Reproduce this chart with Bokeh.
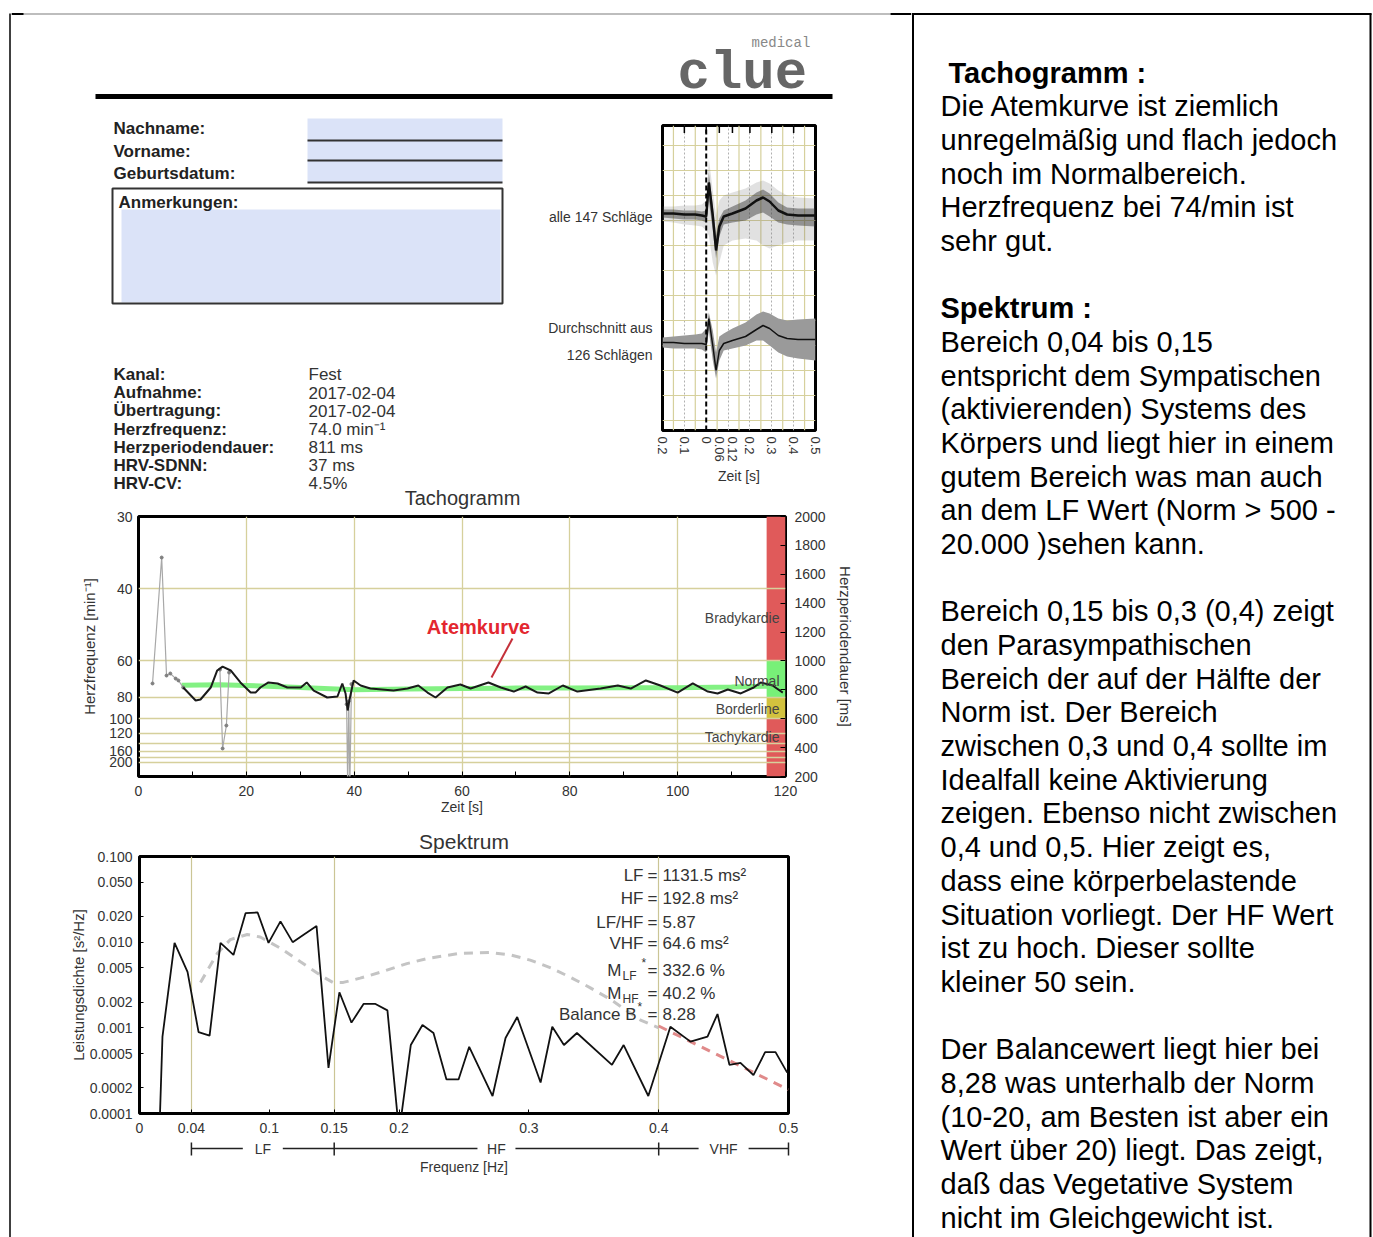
import math
from bokeh.plotting import figure
from bokeh.models import Range1d, FixedTicker, LinearAxis
from bokeh.layouts import row, column
from bokeh.embed import file_html
from bokeh.resources import INLINE
from bokeh.core.properties import value

SANS = "Liberation Sans"
MONO = "Liberation Mono"

# ------------------------------------------------------------------ data
form_labels = ["Nachname:", "Vorname:", "Geburtsdatum:"]
notes_label = "Anmerkungen:"
info_labels = ["Kanal:", "Aufnahme:", "Übertragung:", "Herzfrequenz:",
               "Herzperiodendauer:", "HRV-SDNN:", "HRV-CV:"]
info_values = ["Fest", "2017-02-04", "2017-02-04", "74.0 min⁻¹", "811 ms", "37 ms", "4.5%"]
beat_labels = ["alle 147 Schläge", "Durchschnitt aus", "126 Schlägen"]

# ECG beats (time in s, amplitude in grid units)
ecg_t = [-0.20, -0.15, -0.10, -0.05, -0.02, 0.00, 0.012, 0.03, 0.045, 0.06,
         0.08, 0.12, 0.18, 0.23, 0.26, 0.29, 0.33, 0.37, 0.42, 0.50]
beat_all_mid = [8.68, 8.68, 8.64, 8.64, 8.60, 8.56, 9.92, 8.60, 7.20, 8.16,
                8.56, 8.68, 8.88, 9.20, 9.32, 9.16, 8.80, 8.64, 8.60, 8.60]
beat_all_hi = [8.96, 8.96, 9.00, 9.00, 9.04, 9.20, 10.88, 9.60, 8.60, 9.20,
               9.40, 9.52, 9.68, 9.92, 10.00, 9.88, 9.60, 9.40, 9.32, 9.28]
beat_all_lo = [8.36, 8.32, 8.24, 8.20, 8.16, 8.00, 7.80, 6.72, 6.20, 6.72,
               7.40, 7.60, 7.68, 7.60, 7.40, 7.28, 7.40, 7.52, 7.60, 7.60]
beat_core_hi = [8.84, 8.84, 8.80, 8.80, 8.76, 8.80, 10.32, 9.00, 7.80, 8.48,
                8.80, 8.96, 9.20, 9.52, 9.64, 9.48, 9.12, 8.92, 8.88, 8.88]
beat_core_lo = [8.52, 8.48, 8.44, 8.44, 8.40, 8.32, 9.20, 8.00, 6.88, 7.76,
                8.24, 8.32, 8.40, 8.64, 8.72, 8.56, 8.32, 8.24, 8.20, 8.16]
beat_avg = [3.52, 3.52, 3.48, 3.48, 3.48, 3.44, 4.48, 3.40, 2.40, 3.20,
            3.48, 3.60, 3.76, 4.04, 4.20, 4.08, 3.80, 3.68, 3.64, 3.64]
beat_avg_hi = [3.72, 3.76, 3.80, 3.84, 3.88, 4.08, 4.72, 4.00, 3.12, 3.76,
               3.88, 4.08, 4.32, 4.64, 4.76, 4.68, 4.48, 4.40, 4.44, 4.48]
beat_avg_lo = [3.32, 3.28, 3.28, 3.28, 3.24, 3.12, 4.00, 2.80, 2.08, 2.80,
               3.20, 3.28, 3.40, 3.60, 3.60, 3.40, 3.12, 2.96, 2.88, 2.80]
ecg_ticks = [-0.2, -0.1, 0.0, 0.06, 0.12, 0.2, 0.3, 0.4, 0.5]
ecg_tick_labels = ["0.2", "0.1", "0", "0.06", "0.12", "0.2", "0.3", "0.4", "0.5"]

# Tachogramm: time [s] and beat interval [ms]
tacho_t = [8.3, 10.6, 11.5, 13.4, 14.6, 15.6, 17.1, 18.9, 20.8, 21.7, 22.6, 24.1,
           25.8, 27.6, 30.1, 31.2, 32.5, 35.0, 36.9, 37.8, 38.4, 38.8, 39.1, 39.9,
           41.2, 43.0, 47.3, 49.9, 51.9, 53.6, 55.1, 57.3, 59.7, 61.6, 64.9, 67.2,
           69.6, 71.8, 74.0, 76.1, 78.7, 81.4, 85.7, 88.9, 91.3, 94.1, 96.8, 100.0,
           102.8, 105.6, 107.4, 109.3, 111.7, 114.1, 115.4, 117.6, 119.5]
tacho_rr = [816, 726, 733, 816, 934, 961, 934, 851, 781, 781, 816, 851,
            844, 816, 816, 851, 795, 747, 754, 844, 775, 657, 726, 865,
            830, 809, 795, 809, 830, 781, 747, 816, 837, 809, 851, 816,
            788, 823, 781, 775, 830, 788, 809, 830, 809, 865, 830, 781,
            844, 788, 775, 802, 775, 816, 851, 830, 781]
raw_t = [2.6, 4.3, 5.2, 5.9, 6.9, 7.4, 8.3, float("nan"),
         15.1, 15.6, 16.3, 16.8, float("nan"),
         38.6, 38.8, 39.0, 39.2, 39.5]
raw_rr = [844, 1716, 899, 913, 878, 865, 816, float("nan"),
          940, 394, 553, 920, float("nan"),
          700, 120, 720, 130, 840]
trend_t = [8, 15, 20, 30, 40, 50, 60, 70, 80, 90, 100, 110, 117]
trend_rr = [832, 835, 830, 816, 800, 805, 809, 812, 812, 815, 815, 820, 825]
hr_ticks = [30, 40, 60, 80, 100, 120, 160, 200]
hr_grid = [40, 60, 80, 100, 120, 140, 160, 180, 200]
rr_ticks = [200, 400, 600, 800, 1000, 1200, 1400, 1600, 1800, 2000]
time_ticks = [0, 20, 40, 60, 80, 100, 120]
time_minor = [10, 30, 50, 70, 90, 110]
zone_names = ["Bradykardie", "Normal", "Borderline", "Tachykardie"]
zone_lo = [1000, 750, 600, 200]
zone_hi = [2000, 1000, 750, 600]
zone_colors = ["#e05a5a", "#78f078", "#d2c23e", "#e05a5a"]

# Spektrum
spec_f = [0.0156, 0.0177, 0.027, 0.037, 0.0455, 0.054, 0.0624, 0.0724, 0.0817, 0.091,
          0.0994, 0.1086, 0.118, 0.127, 0.1364, 0.1456, 0.154, 0.1633, 0.1726, 0.1818,
          0.191, 0.2, 0.209, 0.218, 0.2265, 0.2365, 0.2458, 0.254, 0.272, 0.282,
          0.291, 0.309, 0.318, 0.327, 0.337, 0.364, 0.373, 0.392, 0.409, 0.4245,
          0.4376, 0.4453, 0.4545, 0.463, 0.473, 0.482, 0.49, 0.499]
spec_p = [0.00008, 0.00079, 0.0098, 0.0045, 0.00089, 0.00081, 0.0098, 0.0071, 0.0218, 0.0222,
          0.0098, 0.0175, 0.0100, 0.0124, 0.0154, 0.00034, 0.0026, 0.00115, 0.0019, 0.0019,
          0.0016, 0.00006, 0.00063, 0.00108, 0.00087, 0.00025, 0.00025, 0.0006, 0.00016, 0.00076,
          0.00134, 0.00023, 0.00103, 0.00063, 0.00087, 0.00037, 0.00063, 0.00016, 0.00103, 0.00069,
          0.00079, 0.00145, 0.00037, 0.00039, 0.00028, 0.00052, 0.00052, 0.0003]
norm_f = [0.047, 0.06, 0.07, 0.083, 0.093, 0.1086, 0.124, 0.142, 0.149, 0.157, 0.17, 0.186,
          0.206, 0.222, 0.247, 0.27, 0.286, 0.301, 0.317, 0.332, 0.347, 0.363, 0.386, 0.4]
norm_p = [0.00339, 0.00741, 0.01072, 0.0123, 0.01148, 0.00851, 0.00589, 0.00389, 0.00339,
          0.00339, 0.0038, 0.00447, 0.00562, 0.00646, 0.00741, 0.00759, 0.00708, 0.00617,
          0.00501, 0.00389, 0.00295, 0.00214, 0.00123, 0.001]
vhf_f = [0.4, 0.5]
vhf_p = [0.00105, 0.00019]
band_names = ["LF", "HF", "VHF"]
band_lo = [0.04, 0.15, 0.4]
band_hi = [0.15, 0.4, 0.5]
freq_ticks = [0, 0.04, 0.1, 0.15, 0.2, 0.3, 0.4, 0.5]
freq_labels = ["0", "0.04", "0.1", "0.15", "0.2", "0.3", "0.4", "0.5"]
psd_ticks = [0.1, 0.05, 0.02, 0.01, 0.005, 0.002, 0.001, 0.0005, 0.0002, 0.0001]
psd_labels = ["0.100", "0.050", "0.020", "0.010", "0.005", "0.002", "0.001",
              "0.0005", "0.0002", "0.0001"]
stat_names = ["LF", "HF", "LF/HF", "VHF"]
stat_values = ["1131.5 ms²", "192.8 ms²", "5.87", "64.6 ms²", "332.6 %", "40.2 %", "8.28"]

# Kommentar rechts
comment_lines = [
    ("Tachogramm :", True), ("Die Atemkurve ist ziemlich", False),
    ("unregelmäßig und flach jedoch", False), ("noch im Normalbereich.", False),
    ("Herzfrequenz bei 74/min ist", False), ("sehr gut.", False), ("", False),
    ("Spektrum :", True), ("Bereich 0,04 bis 0,15", False),
    ("entspricht dem Sympatischen", False), ("(aktivierenden) Systems des", False),
    ("Körpers und liegt hier in einem", False), ("gutem Bereich was man auch", False),
    ("an dem LF Wert (Norm > 500 -", False), ("20.000 )sehen kann.", False), ("", False),
    ("Bereich 0,15 bis 0,3 (0,4) zeigt", False), ("den Parasympathischen", False),
    ("Bereich der auf der Hälfte der", False), ("Norm ist. Der Bereich", False),
    ("zwischen 0,3 und 0,4 sollte im", False), ("Idealfall keine Aktivierung", False),
    ("zeigen. Ebenso nicht zwischen", False), ("0,4 und 0,5. Hier zeigt es,", False),
    ("dass eine körperbelastende", False), ("Situation vorliegt. Der HF Wert", False),
    ("ist zu hoch. Dieser sollte", False), ("kleiner 50 sein.", False), ("", False),
    ("Der Balancewert liegt hier bei", False), ("8,28 was unterhalb der Norm", False),
    ("(10-20, am Besten ist aber ein", False), ("Wert über 20) liegt. Das zeigt,", False),
    ("daß das Vegetative System", False), ("nicht im Gleichgewicht ist.", False),
]

# ------------------------------------------------------------------ helpers
def txt(p, xs, ys, texts, size, color="#222", bold=False, align="left",
        baseline="middle", font=SANS, angle=0.0):
    p.text(x=xs, y=ys, text=texts, text_font=value(font), text_font_size=f"{size}px",
           text_font_style="bold" if bold else "normal", text_color=color,
           text_align=align, text_baseline=baseline, angle=angle)


def pixfig(x0, x1, y0, y1):
    p = figure(width=x1 - x0, height=y1 - y0, x_range=Range1d(x0, x1),
               y_range=Range1d(y1, y0), output_backend="svg", toolbar_location=None,
               x_axis_location=None, y_axis_location=None, min_border=0,
               frame_align=False)
    p.grid.visible = False
    p.outline_line_color = None
    return p


def style_axis(ax, size=14):
    ax.axis_line_color = None
    ax.major_label_text_font = SANS
    ax.major_label_text_font_size = f"{size}px"
    ax.major_label_text_color = "#333"
    ax.axis_label_text_font = SANS
    ax.axis_label_text_font_style = "normal"
    ax.axis_label_text_font_size = "15px"
    ax.axis_label_text_color = "#333"
    ax.major_tick_line_color = "black"
    ax.minor_tick_line_color = "black"


BLUE = "#dbe3f8"
GRIDC = "#d6d09c"

# ------------------------------------------------------------------ left border strip
strip = pixfig(0, 11, 0, 1237)
strip.segment(x0=[9.5], y0=[13], x1=[9.5], y1=[1237], line_color="black", line_width=1.5)

# ------------------------------------------------------------------ header
header = pixfig(11, 911, 0, 114)
header.segment(x0=[11], y0=[13.5], x1=[890], y1=[13.5], line_color="#bdbdbd", line_width=2)
header.segment(x0=[11], y0=[13.5], x1=[23], y1=[13.5], line_color="black", line_width=2)
header.segment(x0=[890], y0=[13.5], x1=[911], y1=[13.5], line_color="black", line_width=2)
txt(header, [677], [73], ["clue"], 54, color="#666", bold=True, baseline="alphabetic", font=MONO)
txt(header, [751], [42], ["medical"], 14, color="#888", font=MONO)
header.segment(x0=[95], y0=[96], x1=[832], y1=[96], line_color="black", line_width=5)

# ------------------------------------------------------------------ info area
info = pixfig(11, 656, 114, 510)
info.quad(left=[307], right=[502], top=[118], bottom=[182], fill_color=BLUE, line_color=None)
info.segment(x0=[307] * 3, y0=[140, 160, 182], x1=[502] * 3, y1=[140, 160, 182],
             line_color="#333", line_width=2)
txt(info, [113] * 3, [128, 151, 173], form_labels, 17, bold=True)
info.quad(left=[121], right=[500], top=[209], bottom=[302], fill_color=BLUE, line_color=None)
info.quad(left=[112], right=[502], top=[188], bottom=[303], fill_color=None,
          line_color="#333", line_width=2)
txt(info, [118], [202], [notes_label], 17, bold=True)
iy = [374 + 18.2 * i for i in range(len(info_labels))]
txt(info, [113] * len(info_labels), iy, info_labels, 17, bold=True)
txt(info, [308] * len(info_values), iy, info_values, 17, color="#333")
txt(info, [652] * 3, [216, 327, 354], beat_labels, 14, align="right", color="#333")
txt(info, [462], [497], ["Tachogramm"], 20, align="center", color="#333")

# ------------------------------------------------------------------ ECG beats
ecg = figure(width=255, height=396, x_range=Range1d(-0.2, 0.5), y_range=Range1d(0, 12.2),
             output_backend="svg", toolbar_location=None, y_axis_location=None,
             min_border_left=6, min_border_right=96, min_border_top=11, min_border_bottom=80,
             frame_align=False)
ecg.outline_line_color = "black"
ecg.outline_line_width = 3
ecg.xgrid.ticker = FixedTicker(ticks=[-0.1, 0.1, 0.2, 0.3, 0.4])
ecg.xgrid.grid_line_color = "#b0b0b0"
ecg.xgrid.grid_line_dash = "2 2"
ecg.ygrid.ticker = FixedTicker(ticks=[0.4 + k for k in range(12)])
ecg.ygrid.grid_line_color = GRIDC
ecg.ygrid.grid_line_width = 1.2
ecg.segment(x0=[-0.15, -0.05, 0.05, 0.15, 0.25, 0.35, 0.45], y0=[0] * 7,
            x1=[-0.15, -0.05, 0.05, 0.15, 0.25, 0.35, 0.45], y1=[12.2] * 7,
            line_color=GRIDC, line_width=1.2, level="underlay")
ex = ecg.xaxis[0]
style_axis(ex, 13)
ex.ticker = FixedTicker(ticks=ecg_ticks)
ex.major_label_overrides = dict(zip(ecg_ticks, ecg_tick_labels))
ex.major_label_orientation = "vertical"
ex.major_tick_in = 0
ex.major_tick_out = 0
ex.minor_tick_line_color = None
ex.major_label_standoff = 6
ex.axis_label = "Zeit [s]"
ex.axis_label_text_font_size = "14px"
ex.axis_label_standoff = 3
ecg.segment(x0=ecg_ticks, y0=[12.2] * len(ecg_ticks), x1=ecg_ticks,
            y1=[11.9] * len(ecg_ticks), line_color="black", line_width=1.5)
ecg.varea(x=ecg_t, y1=beat_all_lo, y2=beat_all_hi, fill_color="#777", fill_alpha=0.22)
ecg.varea(x=ecg_t, y1=beat_core_lo, y2=beat_core_hi, fill_color="#333", fill_alpha=0.45)
ecg.line(ecg_t, beat_all_mid, line_color="#111", line_width=2.5)
ecg.varea(x=ecg_t, y1=beat_avg_lo, y2=beat_avg_hi, fill_color="#9a9a9a", fill_alpha=1.0)
ecg.line(ecg_t, beat_avg, line_color="#111", line_width=1.5)
ecg.segment(x0=[0], y0=[0], x1=[0], y1=[12.2], line_color="black", line_width=2,
            line_dash="5 3")

# ------------------------------------------------------------------ Tachogramm
tacho = figure(width=900, height=313, x_range=Range1d(0, 120), y_range=Range1d(200, 2000),
               output_backend="svg", toolbar_location=None,
               min_border_left=127, min_border_right=126, min_border_top=6,
               min_border_bottom=47, frame_align=False)
tacho.outline_line_color = "black"
tacho.outline_line_width = 3
tacho.xgrid.ticker = FixedTicker(ticks=[20, 40, 60, 80, 100])
tacho.ygrid.ticker = FixedTicker(ticks=[60000.0 / h for h in hr_grid])
for g in (tacho.xgrid[0], tacho.ygrid[0]):
    g.grid_line_color = GRIDC
    g.grid_line_width = 1.3
tx = tacho.xaxis[0]
style_axis(tx)
tx.ticker = FixedTicker(ticks=time_ticks, minor_ticks=time_minor)
tx.major_tick_in = 5
tx.major_tick_out = 0
tx.minor_tick_in = 5
tx.minor_tick_out = 0
tx.major_label_standoff = 9
tx.axis_label = "Zeit [s]"
tx.axis_label_text_font_size = "14px"
tx.axis_label_standoff = 0
ty = tacho.yaxis[0]
style_axis(ty)
ty.ticker = FixedTicker(ticks=[60000.0 / h for h in hr_ticks])
ty.major_label_overrides = {60000.0 / h: str(h) for h in hr_ticks}
ty.major_tick_in = 0
ty.major_tick_out = 0
ty.minor_tick_line_color = None
ty.major_label_standoff = 6
ty.axis_label = "Herzfrequenz [min⁻¹]"
ty.axis_label_standoff = 8
ra = LinearAxis(ticker=FixedTicker(ticks=rr_ticks), axis_label="Herzperiodendauer [ms]")
style_axis(ra)
ra.major_tick_in = 5
ra.major_tick_out = 0
ra.minor_tick_line_color = None
ra.major_label_standoff = 9
ra.axis_label_standoff = 8
tacho.add_layout(ra, "right")

tacho.quad(left=[116.5] * 4, right=[120] * 4, bottom=zone_lo, top=zone_hi,
           fill_color=zone_colors, line_color=None, level="image")
tacho.line(trend_t, trend_rr, line_color="#7cf07c", line_width=5, line_alpha=0.95)
tacho.line(raw_t, raw_rr, line_color="#a8a8a8", line_width=1.2)
tacho.scatter(raw_t, raw_rr, size=3, color="#808080")
tacho.line(tacho_t, tacho_rr, line_color="#1a1a1a", line_width=2)


def t_x(px):
    return (px - 138) * 120.0 / 647.0


def t_y(py):
    return 2000 - (py - 516) * 1800.0 / 260.0


zone_y = [617, 680, 708, 736]
txt(tacho, [t_x(779)] * 4, [t_y(v) for v in zone_y], zone_names, 14, color="#444",
    align="right")
txt(tacho, [t_x(478)], [t_y(626)], ["Atemkurve"], 20, color="#e3262f", bold=True,
    align="center")
tacho.segment(x0=[t_x(512)], y0=[t_y(638)], x1=[t_x(491)], y1=[t_y(677)],
              line_color="#c4303a", line_width=2)

# ------------------------------------------------------------------ Spektrum
spec = figure(width=900, height=317, x_range=Range1d(0, 0.5), y_range=Range1d(1e-4, 0.1),
              y_axis_type="log", output_backend="svg", toolbar_location=None,
              title="Spektrum", min_border_left=128, min_border_right=123,
              min_border_top=33, min_border_bottom=27, frame_align=False)
spec.title.align = "center"
spec.title.text_font = SANS
spec.title.text_font_size = "21px"
spec.title.text_font_style = "normal"
spec.title.text_color = "#333"
spec.title.standoff = 7
spec.outline_line_color = "black"
spec.outline_line_width = 3
spec.xgrid.ticker = FixedTicker(ticks=band_lo)
spec.xgrid.grid_line_color = "#cbc595"
spec.xgrid.grid_line_width = 1.2
spec.ygrid.visible = False
sx = spec.xaxis[0]
style_axis(sx)
sx.ticker = FixedTicker(ticks=freq_ticks)
sx.major_label_overrides = dict(zip(freq_ticks, freq_labels))
sx.major_tick_in = 4
sx.major_tick_out = 0
sx.minor_tick_line_color = None
sx.major_label_standoff = 9
sy = spec.yaxis[0]
style_axis(sy)
sy.ticker = FixedTicker(ticks=psd_ticks)
sy.major_label_overrides = dict(zip(psd_ticks, psd_labels))
sy.major_tick_in = 4
sy.major_tick_out = 0
sy.minor_tick_line_color = None
sy.major_label_standoff = 7
sy.axis_label = "Leistungsdichte [s²/Hz]"
sy.axis_label_standoff = 0

spec.line(norm_f, norm_p, line_color="#c4c4c4", line_width=3, line_dash="9 7")
spec.line(vhf_f, vhf_p, line_color="#e08a8a", line_width=3, line_dash="9 7")
spec.line(spec_f, spec_p, line_color="#111", line_width=1.8)


def s_x(px):
    return (px - 139) / 1298.0


def s_y(py):
    return 10 ** (-1 - (py - 856) / 85.67)


rows = [875, 898, 922, 943, 970, 993, 1014]
txt(spec, [s_x(643)] * 4, [s_y(r) for r in rows[:4]], stat_names, 17, color="#333",
    align="right")
txt(spec, [s_x(621)] * 2, [s_y(rows[4]), s_y(rows[5])], ["M", "M"], 17, color="#333",
    align="right")
txt(spec, [s_x(622)] * 2, [s_y(rows[4] + 6), s_y(rows[5] + 6)], ["LF", "HF"], 12,
    color="#333")
txt(spec, [s_x(641), s_x(637)], [s_y(rows[4] - 7), s_y(rows[6] - 7)], ["*", "*"], 12,
    color="#333")
txt(spec, [s_x(636)], [s_y(rows[6])], ["Balance B"], 17, color="#333", align="right")
txt(spec, [s_x(652)] * 7, [s_y(r) for r in rows], ["="] * 7, 17, color="#333",
    align="center")
txt(spec, [s_x(662)] * 7, [s_y(r) for r in rows], stat_values, 17, color="#333")

# ------------------------------------------------------------------ band bar below spectrum
band = figure(width=900, height=97, x_range=Range1d(-128 / 1298.0, 0.5 + 123 / 1298.0),
              y_range=Range1d(97, 0), output_backend="svg", toolbar_location=None,
              x_axis_location=None, y_axis_location=None, min_border=0, frame_align=False)
band.grid.visible = False
band.outline_line_color = None
gaps = [20 / 1298.0, 19 / 1298.0, 25 / 1298.0]
mids = [(a + b) / 2 for a, b in zip(band_lo, band_hi)]
band.segment(x0=band_lo + [m + g for m, g in zip(mids, gaps)],
             y0=[8] * 6,
             x1=[m - g for m, g in zip(mids, gaps)] + band_hi,
             y1=[8] * 6, line_color="#222", line_width=1.5)
edges = band_lo + [band_hi[-1]]
band.segment(x0=edges, y0=[2] * 4, x1=edges, y1=[15] * 4, line_color="#222", line_width=1.5)
txt(band, mids, [8] * 3, band_names, 14, color="#333", align="center")
txt(band, [0.25], [26], ["Frequenz [Hz]"], 14, color="#333", align="center")

# ------------------------------------------------------------------ right comment column
right = pixfig(911, 1373, 0, 1237)
right.segment(x0=[911, 912.5, 1370], y0=[13.5, 13, 13], x1=[1371, 912.5, 1370],
              y1=[13.5, 1237, 1237], line_color="black", line_width=2)
for i, (line, bold) in enumerate(comment_lines):
    if not line:
        continue
    txt(right, [948 if i == 0 else 940], [72 + 33.68 * i], [line], 29, color="black",
        bold=bold)

# ------------------------------------------------------------------ layout
left_col = column(header, row(info, ecg), tacho, spec, band)
page = row(strip, left_col, right)

open("out.html", "w").write(file_html(page, INLINE))
